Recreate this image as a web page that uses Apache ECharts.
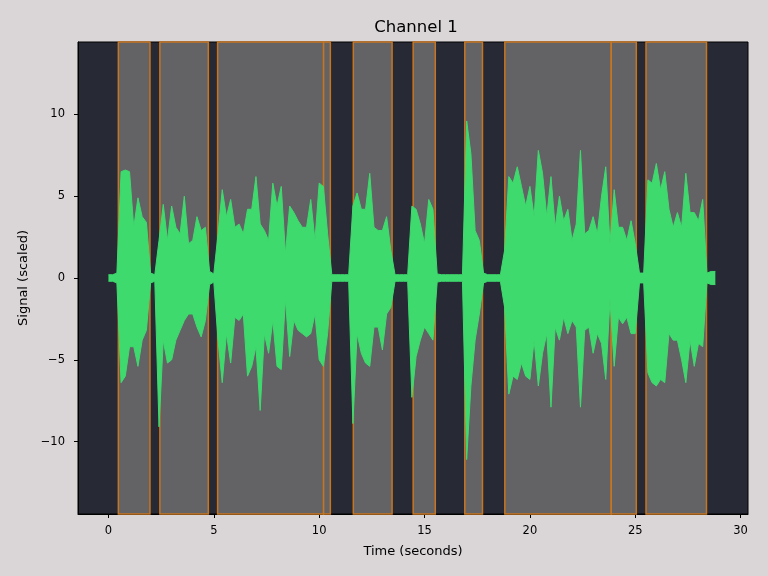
<!DOCTYPE html>
<html>
<head>
<meta charset="utf-8">
<script src="https://cdn.jsdelivr.net/npm/echarts@6/dist/echarts.min.js"></script>
<style>html,body{margin:0;padding:0;background:#dad5d6;}#c{width:768px;height:576px;}</style>
</head>
<body>
<div id="c"></div>
<script>
// Sampling step of the signal envelope (seconds)
const sampleStep = 0.2;
// Upper envelope of the signal, one value per sample (t = 0, 0.2, ... 28.8)
const signalHigh = [
  0.2,0.2,0.3,6.5,6.6,6.5,3.1,4.9,3.75,3.4,
  0.3,0.2,2.3,4.5,2.3,4.4,3.1,2.7,5.0,2.1,
  2.3,3.75,2.9,3.1,0.4,0.25,2.7,5.4,3.75,4.8,
  3.1,3.3,2.7,4.2,4.2,6.2,3.3,2.9,2.3,5.8,
  4.4,5.6,1.5,4.4,4.0,3.5,3.1,3.1,4.8,2.3,
  5.8,5.6,2.7,0.2,0.2,0.2,0.2,0.2,4.4,5.2,
  4.2,4.2,6.4,3.1,2.9,2.9,3.75,1.7,0.2,0.2,
  0.2,0.2,4.4,4.2,3.3,2.1,4.8,4.2,0.25,0.2,
  0.2,0.2,0.2,0.2,0.2,9.6,7.6,2.9,2.3,0.3,
  0.2,0.2,0.2,0.2,1.7,6.2,5.8,6.8,5.6,4.4,
  5.6,3.75,7.8,6.4,3.75,6.2,3.1,5.0,3.5,4.2,
  2.3,3.3,7.8,2.7,2.9,3.75,2.7,5.0,6.8,2.1,
  5.4,3.1,3.1,2.3,3.5,2.1,0.3,0.3,6.0,5.8,
  7.0,5.4,6.5,4.2,3.1,4.0,3.1,6.4,4.0,4.0,
  3.5,4.8,0.3,0.4,0.4
];
// Lower envelope of the signal, same samples
const signalLow = [
  -0.2,-0.2,-0.3,-6.4,-6.0,-4.2,-4.2,-5.4,-3.8,-3.2,
  -0.3,-0.2,-9.1,-3.8,-5.2,-5.0,-3.8,-3.2,-2.6,-2.2,
  -2.2,-3.0,-3.6,-2.6,-0.4,-0.25,-3.8,-6.4,-3.4,-5.2,
  -2.4,-2.6,-2.2,-6.0,-5.4,-4.2,-8.1,-3.4,-4.6,-2.6,
  -5.4,-5.6,-1.3,-4.8,-2.6,-3.2,-3.4,-3.6,-3.4,-2.2,
  -5.0,-5.4,-3.4,-0.2,-0.2,-0.2,-0.2,-0.2,-8.9,-3.4,
  -4.6,-5.2,-5.4,-3.0,-3.0,-4.4,-2.2,-1.8,-0.2,-0.2,
  -0.2,-0.2,-7.3,-4.8,-3.8,-3.0,-3.4,-3.8,-0.25,-0.2,
  -0.2,-0.2,-0.2,-0.2,-0.2,-11.1,-6.6,-3.8,-2.2,-0.3,
  -0.2,-0.2,-0.2,-0.2,-1.8,-7.1,-6.0,-6.2,-5.2,-6.0,
  -6.2,-3.8,-6.6,-4.6,-3.4,-7.9,-3.0,-3.8,-2.4,-3.4,
  -2.6,-3.0,-7.9,-3.2,-3.0,-4.6,-3.4,-4.0,-6.2,-1.3,
  -5.4,-2.4,-2.8,-2.4,-3.4,-3.4,-0.3,-0.3,-5.8,-6.4,
  -6.6,-6.2,-6.4,-3.4,-3.8,-3.8,-5.0,-6.4,-3.8,-5.4,
  -4.0,-4.2,-0.3,-0.4,-0.4
];
// Speech segments (seconds)
const segmentStarts = [0.47, 2.44, 5.18, 10.21, 11.62, 14.46, 16.91, 18.81, 23.86, 25.51];
const segmentEnds   = [1.97, 4.74, 10.21, 10.53, 13.46, 15.51, 17.75, 23.86, 25.05, 28.38];
// Tick labels
const xTicks = [0, 5, 10, 15, 20, 25, 30];
const yTicks = [-10, -5, 0, 5, 10];

const highData = signalHigh.map((v, i) => [+(i * sampleStep).toFixed(2), v]);
const lowData = signalLow.map((v, i) => [+(i * sampleStep).toFixed(2), v]);
const areas = segmentStarts.map((s, i) => [{xAxis: s}, {xAxis: segmentEnds[i]}]);

const green = '#3fda6e';
const font = 'DejaVu Sans';
const fmt = v => String(v).replace('-', '\u2212');

const chart = echarts.init(document.getElementById('c'), null, {renderer: 'canvas'});
chart.setOption({
  backgroundColor: '#dad5d6',
  animation: false,
  title: {
    text: 'Channel 1', left: 411, top: 14, textAlign: 'center',
    textStyle: {fontFamily: font, fontSize: 16.5, fontWeight: 'normal', color: '#000'}
  },
  grid: {
    left: 78, right: 20, top: 42, bottom: 62,
    show: true, backgroundColor: '#272a35', borderColor: '#000', borderWidth: 1
  },
  xAxis: {
    type: 'value', min: -1.445, max: 30.35,
    name: 'Time (seconds)', nameLocation: 'middle', nameGap: 31,
    nameTextStyle: {fontFamily: font, fontSize: 13, color: '#000'},
    axisLine: {show: true, onZero: false, lineStyle: {color: '#000', width: 1}},
    axisTick: {show: true, length: 4, lineStyle: {color: '#000'}, customValues: xTicks},
    axisLabel: {show: true, margin: 11, fontFamily: font, fontSize: 11.5, color: '#000', customValues: xTicks, formatter: fmt},
    splitLine: {show: false}
  },
  yAxis: {
    type: 'value', min: -14.43, max: 14.43,
    name: 'Signal (scaled)', nameLocation: 'middle', nameGap: 48, nameRotate: 90,
    nameTextStyle: {fontFamily: font, fontSize: 13, color: '#000'},
    axisLine: {show: true, onZero: false, lineStyle: {color: '#000', width: 1}},
    axisTick: {show: true, length: 4, lineStyle: {color: '#000'}, customValues: yTicks},
    axisLabel: {show: true, margin: 13, fontFamily: font, fontSize: 11.5, color: '#000', customValues: yTicks, formatter: fmt},
    splitLine: {show: false}
  },
  series: [
    {
      type: 'line', data: [], z: 1,
      markArea: {
        silent: true,
        itemStyle: {color: '#636366', borderColor: '#c8751f', borderWidth: 1.5},
        data: areas
      }
    },
    {
      type: 'line', data: highData, z: 3, symbol: 'none',
      lineStyle: {color: green, width: 1}, areaStyle: {color: green, opacity: 1, origin: 0}
    },
    {
      type: 'line', data: lowData, z: 3, symbol: 'none',
      lineStyle: {color: green, width: 1}, areaStyle: {color: green, opacity: 1, origin: 0}
    }
  ]
});
</script>
</body>
</html>
